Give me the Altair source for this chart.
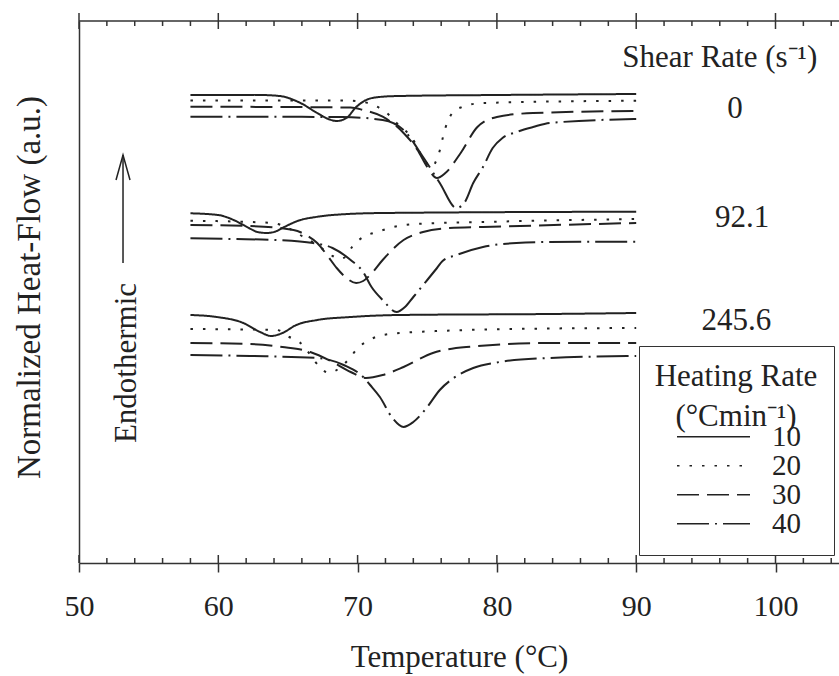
import altair as alt
import pandas as pd

# ---------------- data (temperature in °C, heat flow in a.u.) ----------------
SHEAR_RATES = ["0", "92.1", "245.6"]
HEATING_RATES = ["10", "20", "30", "40"]

# shear rate 0
T_0_10 = [58, 63, 64.4, 65.9, 67.1, 68.0, 68.5, 69.2, 69.9, 70.9, 72.0, 73.0, 80, 90]
HF_0_10 = [46.8, 46.8, 46.7, 46.0, 45.0, 44.35, 44.2, 44.5, 45.6, 46.45, 46.65, 46.7, 46.8, 46.9]
T_0_20 = [58, 69, 70.4, 71.4, 72.1, 72.8, 74.0, 74.7, 75.3, 75.8, 76.3, 76.8, 77.5, 79, 90]
HF_0_20 = [46.25, 46.25, 46.1, 45.63, 45.0, 44.0, 42.3, 40.5, 39.6, 40.8, 43.5, 45.0, 45.6, 46.0, 46.23]
T_0_30 = [58, 69.5, 70.4, 71.8, 73.3, 74.3, 75.0, 75.7, 76.3, 77.4, 78.6, 80.0, 82.6, 90]
HF_0_30 = [45.63, 45.55, 45.3, 44.63, 43.0, 41.3, 39.6, 38.5, 39.0, 41.0, 43.6, 44.6, 45.0, 45.2]
T_0_40 = [58, 68.9, 71.8, 73.3, 74.7, 75.9, 77.1, 77.7, 78.3, 79.0, 79.7, 80.4, 81.4, 82.6, 83.8, 90]
HF_0_40 = [44.63, 44.6, 44.3, 43.3, 40.6, 38.0, 35.5, 36.1, 38.0, 39.6, 41.5, 42.5, 43.1, 43.6, 44.0, 44.4]

# shear rate 92.1
T_1_10 = [58, 60, 61.1, 62.2, 62.8, 63.5, 64.2, 64.6, 65.9, 67.0, 68.2, 71.8, 90]
HF_1_10 = [34.97, 34.8, 34.3, 33.5, 33.1, 33.0, 33.2, 33.5, 34.3, 34.6, 34.8, 35.0, 35.13]
T_1_20 = [58, 63.9, 65.0, 66.0, 67.1, 68.2, 68.7, 69.2, 69.6, 70.4, 71.4, 72.3, 74.2, 79, 90]
HF_1_20 = [34.23, 34.0, 33.5, 32.7, 31.8, 30.7, 30.4, 30.7, 31.6, 32.6, 33.1, 33.5, 33.9, 34.1, 34.4]
T_1_30 = [58, 62.3, 65.4, 66.3, 67.1, 67.8, 68.5, 69.2, 69.9, 70.4, 70.9, 71.8, 73.3, 74.7, 76.6, 79, 90]
HF_1_30 = [33.8, 33.7, 33.3, 32.8, 32.0, 30.8, 29.5, 28.5, 28.0, 28.2, 28.8, 30.3, 32.3, 33.1, 33.5, 33.6, 34.0]
T_1_40 = [58, 61.1, 64.2, 66.8, 68.2, 69.5, 70.4, 71.0, 71.8, 72.8, 73.4, 74.0, 75.0, 75.7, 76.1, 77.1, 79.0, 81.4, 83.8, 90]
HF_1_40 = [32.47, 32.4, 32.3, 32.0, 31.5, 30.3, 29.1, 27.6, 26.3, 25.1, 25.6, 26.6, 28.3, 29.5, 30.2, 30.8, 31.6, 32.0, 32.1, 32.13]

# shear rate 245.6
T_2_10 = [58, 59.9, 61.8, 63.0, 63.8, 64.6, 65.6, 67.1, 69.5, 73, 83.8, 90]
HF_2_10 = [24.8, 24.6, 24.0, 23.1, 22.7, 23.0, 23.8, 24.3, 24.6, 24.8, 24.9, 25.0]
T_2_20 = [58, 64.2, 65.1, 65.9, 67.3, 67.9, 68.5, 69.5, 70.0, 70.6, 71.8, 74.2, 83.8, 90]
HF_2_20 = [23.4, 23.3, 22.6, 22.0, 19.6, 19.0, 19.3, 20.6, 21.5, 22.1, 22.8, 23.1, 23.45, 23.5]
T_2_30 = [58, 62.3, 64.6, 66.6, 68.2, 69.5, 70.6, 71.8, 73.3, 75.4, 77.8, 83.8, 90]
HF_2_30 = [22.0, 21.9, 21.6, 21.1, 20.1, 19.1, 18.5, 18.8, 19.6, 21.0, 21.6, 22.0, 22.0]
T_2_40 = [58, 62.3, 67.1, 69.0, 70.4, 70.9, 71.6, 72.5, 73.3, 74.0, 75.0, 75.9, 76.9, 78.3, 80.2, 83.8, 90]
HF_2_40 = [20.8, 20.7, 20.5, 19.8, 18.6, 17.8, 16.6, 14.5, 13.6, 14.1, 15.6, 17.3, 18.5, 19.5, 20.1, 20.5, 20.7]

# annotation labels (shear rate column)
ANN_TEXT = ["Shear Rate (s\u207b\u00b9)", "0", "92.1", "245.6"]
ANN_T = [96.0, 97.1, 97.6, 97.2]
ANN_HF = [49.6, 44.5, 33.6, 23.3]

# endothermic arrow
ENDO_T = [53.45]
ENDO_HF = [20.0]
ARROW_T = [53.16]
ARROW_FROM = [30.0]
ARROW_TO = [40.8]
ARROW_HEAD = [39.55]

MAJOR_TICKS = [50, 60, 70, 80, 90, 100]
MINOR_TICKS = [52, 54, 56, 58, 62, 64, 66, 68, 72, 74, 76, 78, 82, 84, 86, 88, 92, 94, 96, 98, 102, 104]

# ---------------- build table ----------------
series = [
    ("0", "10", T_0_10, HF_0_10), ("0", "20", T_0_20, HF_0_20),
    ("0", "30", T_0_30, HF_0_30), ("0", "40", T_0_40, HF_0_40),
    ("92.1", "10", T_1_10, HF_1_10), ("92.1", "20", T_1_20, HF_1_20),
    ("92.1", "30", T_1_30, HF_1_30), ("92.1", "40", T_1_40, HF_1_40),
    ("245.6", "10", T_2_10, HF_2_10), ("245.6", "20", T_2_20, HF_2_20),
    ("245.6", "30", T_2_30, HF_2_30), ("245.6", "40", T_2_40, HF_2_40),
]
rows = []
for s, r, ts, hs in series:
    for t, h in zip(ts, hs):
        rows.append({"shear": s, "rate": r, "T": t, "HF": h})
df = pd.DataFrame(rows)

W, H = 760, 542
XMAX = 50 + W / 13.93
FONT = "Liberation Serif"
INK = "#222222"
AX = "#333333"

xs = alt.Scale(domain=[50, XMAX], nice=False, zero=False)
ys = alt.Scale(domain=[0, 54.2], nice=False, zero=False)

lines = alt.Chart(df).mark_line(strokeWidth=2, color=INK, interpolate="monotone").encode(
    x=alt.X("T:Q", scale=xs, axis=alt.Axis(
        values=MAJOR_TICKS, tickSize=9, tickWidth=1.5, tickColor=AX,
        domainColor=AX, domainWidth=1.5, grid=False, labelFlush=False,
        labelFont=FONT, labelFontSize=30, labelColor=INK, labelPadding=19,
        title="Temperature (\u00b0C)", titleFont=FONT, titleFontSize=31,
        titleFontWeight="normal", titleColor=INK, titleY=103, titleBaseline="alphabetic")),
    y=alt.Y("HF:Q", scale=ys, axis=alt.Axis(
        ticks=False, labels=False, grid=False, domainColor=AX, domainWidth=1.5,
        title="Normalized Heat-Flow (a.u.)", titleFont=FONT, titleFontSize=33,
        titleFontWeight="normal", titleColor=INK, titleX=-50, titleY=266,
        titleBaseline="middle", titleAngle=270)),
    strokeDash=alt.StrokeDash("rate:N", scale=alt.Scale(
        domain=HEATING_RATES, range=[[1, 0], [2.5, 10], [22, 8], [32, 6, 2, 6]]),
        legend=alt.Legend(
            title=["Heating Rate", "(\u00b0Cmin\u207b\u00b9)"], orient="none",
            legendX=560, legendY=325, strokeColor=AX, fillColor="white", padding=16,
            titleFont=FONT, titleFontSize=31, titleFontWeight="normal", titleColor=INK,
            titleAnchor="middle", titleLineHeight=40, titlePadding=-10,
            labelFont=FONT, labelFontSize=29, labelColor=INK, labelOffset=21,
            symbolType="stroke", symbolSize=5329, symbolStrokeWidth=1.5,
            symbolStrokeColor=INK, symbolOffset=6, clipHeight=27.5, rowPadding=-5.5)),
    detail="shear:N",
)

major_df = pd.DataFrame({"v": MAJOR_TICKS})
minor_df = pd.DataFrame({"v": MINOR_TICKS})
xv = alt.X("v:Q", scale=xs, axis=None)

bot_major_in = alt.Chart(major_df).mark_rule(strokeWidth=1.5, color=AX).encode(
    x=xv, y=alt.value(H), y2=alt.value(H - 8))
bot_minor = alt.Chart(minor_df).mark_rule(strokeWidth=1.5, color=AX).encode(
    x=xv, y=alt.value(H), y2=alt.value(H - 5))
top_major = alt.Chart(major_df).mark_rule(strokeWidth=1.5, color=AX).encode(
    x=xv, y=alt.value(-8), y2=alt.value(8))
top_minor = alt.Chart(minor_df).mark_rule(strokeWidth=1.5, color=AX).encode(
    x=xv, y=alt.value(0), y2=alt.value(5))
top_line = alt.Chart(pd.DataFrame({"v": [50]})).mark_rule(strokeWidth=1.5, color=AX).encode(
    x=alt.value(0), x2=alt.value(W), y=alt.value(0))

ann_df = pd.DataFrame({"label": ANN_TEXT, "T": ANN_T, "HF": ANN_HF})
ann = alt.Chart(ann_df).mark_text(font=FONT, fontSize=31, color=INK, align="center",
                                  baseline="alphabetic").encode(
    x=alt.X("T:Q", scale=xs, axis=None), y=alt.Y("HF:Q", scale=ys, axis=None), text="label:N")

endo_df = pd.DataFrame({"label": ["Endothermic"], "T": ENDO_T, "HF": ENDO_HF})
endo = alt.Chart(endo_df).mark_text(font=FONT, fontSize=31, color=INK, align="center",
                                    baseline="middle", angle=270).encode(
    x=alt.X("T:Q", scale=xs, axis=None), y=alt.Y("HF:Q", scale=ys, axis=None), text="label:N")

arrow_df = pd.DataFrame({"T": ARROW_T, "a": ARROW_FROM, "b": ARROW_TO, "h": ARROW_HEAD})
arrow = alt.Chart(arrow_df).mark_rule(strokeWidth=1.5, color=INK).encode(
    x=alt.X("T:Q", scale=xs, axis=None), y=alt.Y("a:Q", scale=ys, axis=None), y2="b:Q")
head = alt.Chart(arrow_df).mark_point(shape="M-0.56,1 L0,-1 L0.56,1", filled=False, size=625,
                                      strokeWidth=1.5, color=INK, opacity=1).encode(
    x=alt.X("T:Q", scale=xs, axis=None), y=alt.Y("h:Q", scale=ys, axis=None))

chart = alt.layer(lines, bot_major_in, bot_minor, top_major, top_minor, top_line,
                  ann, endo, arrow, head).resolve_axis(
    x="independent", y="independent"
).properties(
    width=W, height=H,
    autosize=alt.AutoSizeParams(type="none"),
    padding={"left": 79, "top": 21, "right": 0, "bottom": 111},
).configure_view(stroke=None)

chart.save("out.html", embed_options={"renderer": "svg", "actions": False})
